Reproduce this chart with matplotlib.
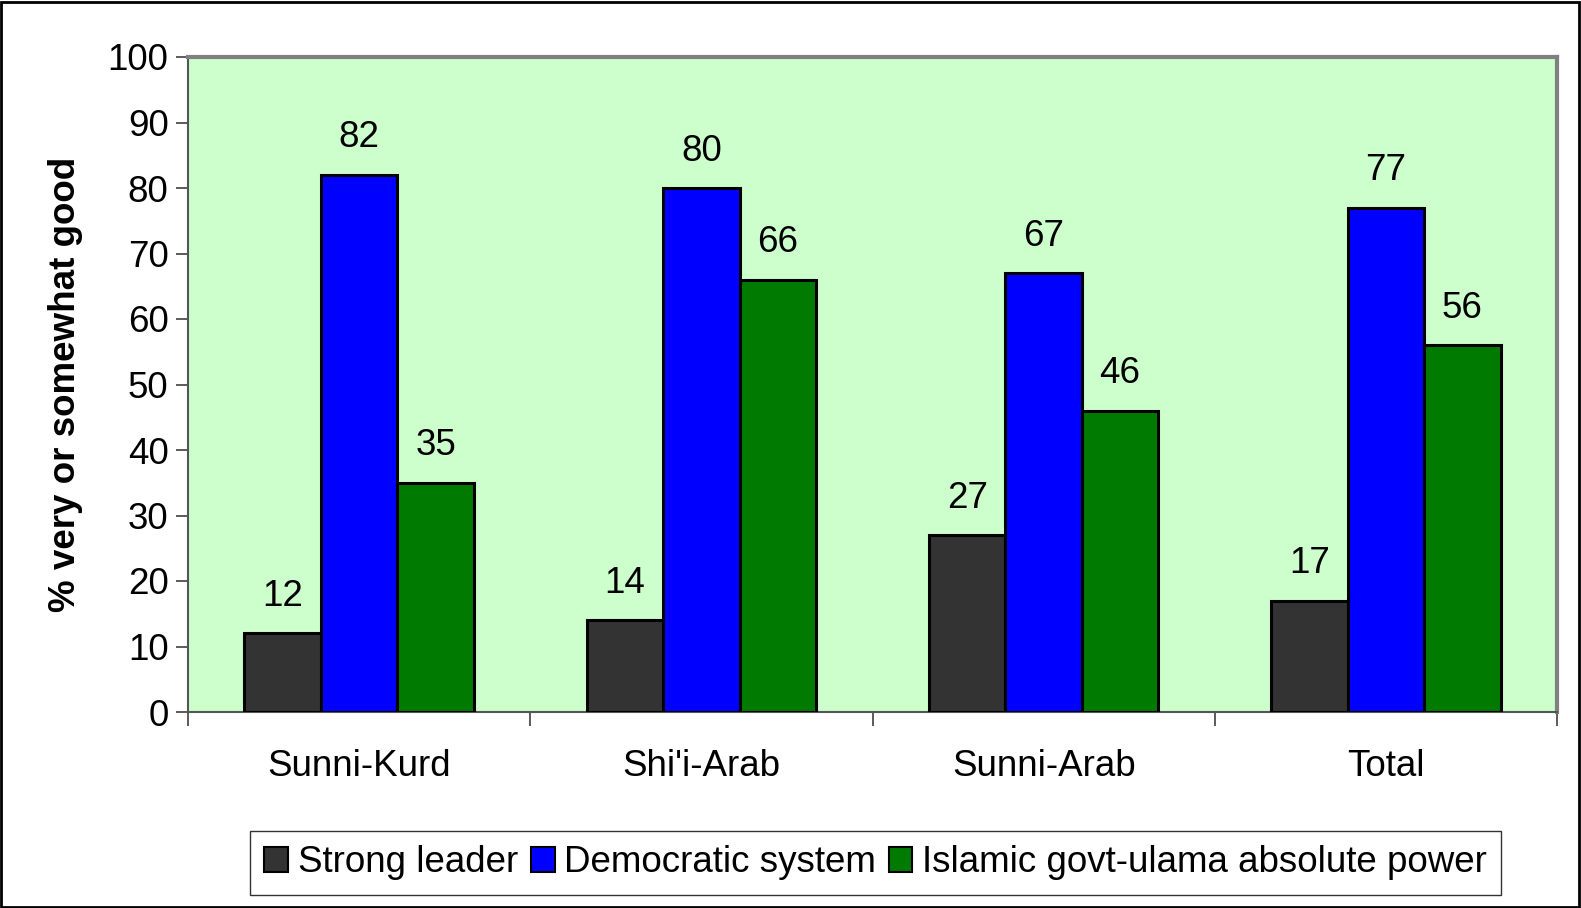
import numpy as np
import matplotlib.pyplot as plt
from matplotlib.patches import Rectangle

plt.rcParams['font.family'] = ['Liberation Sans', 'DejaVu Sans']

groups = ['Sunni-Kurd', "Shi'i-Arab", 'Sunni-Arab', 'Total']
series = ['Strong leader', 'Democratic system', 'Islamic govt-ulama absolute power']
strong_leader = [12, 14, 27, 17]
democratic = [82, 80, 67, 77]
islamic = [35, 66, 46, 56]
colors = ['#333333', '#0000ff', '#007a00']

FS = 26.5
W, H = 1581, 908
fig = plt.figure(figsize=(W / 100, H / 100), dpi=100)
ax = fig.add_axes([188 / W, 1 - 712 / H, (1557 - 188) / W, (712 - 57) / H])
ax.set_facecolor('#ccffcc')

x = np.arange(len(groups))
bw = 0.2235
for i, (name, vals) in enumerate(zip(series, [strong_leader, democratic, islamic])):
    pos = x + (i - 1) * bw
    ax.bar(pos, vals, width=bw, color=colors[i], edgecolor='black', linewidth=2.2,
           label=name, zorder=3)
    for px, v in zip(pos, vals):
        ax.annotate(str(v), (px, v), xytext=(0, 14), textcoords='offset points',
                    ha='center', va='bottom', fontsize=FS)

ax.set_xlim(-0.5, 3.5)
ax.set_ylim(0, 100)
ax.set_yticks(range(0, 101, 10))
ax.tick_params(axis='y', labelsize=FS, length=9, width=1.2, color='#404040', pad=5)
ax.set_xticks(np.arange(-0.5, 3.6, 1))
ax.set_xticklabels([])
ax.set_xticks(x, minor=True)
ax.set_xticklabels(groups, minor=True, fontsize=FS)
ax.tick_params(axis='x', which='major', length=10, width=1.2, color='#404040')
ax.tick_params(axis='x', which='minor', length=0, pad=27)
for s in ['left', 'bottom']:
    ax.spines[s].set_color('#555555')
    ax.spines[s].set_linewidth(1.5)
for s in ['top', 'right']:
    ax.spines[s].set_color('#808080')
    ax.spines[s].set_linewidth(3)

ax.set_ylabel('% very or somewhat good', fontsize=FS, fontweight='bold', labelpad=18)

leg = fig.legend(loc='center', bbox_to_anchor=((249 + 1502) / 2 / W, 1 - 863 / H),
                 ncol=3, fontsize=FS, frameon=True, fancybox=False,
                 handlelength=0.65, handleheight=0.65, handletextpad=0.25,
                 columnspacing=0.35, borderpad=0.4, borderaxespad=0.2)
leg.get_frame().set_edgecolor('black')
leg.get_frame().set_linewidth(1)
for h in leg.legend_handles:
    h.set_linewidth(1.5)

fig.patches.append(Rectangle((1 / W, 1 / H), 1 - 3 / W, 1 - 3 / H, transform=fig.transFigure,
                             fill=False, edgecolor='black', linewidth=2))

fig.savefig('out.png', dpi=100)
